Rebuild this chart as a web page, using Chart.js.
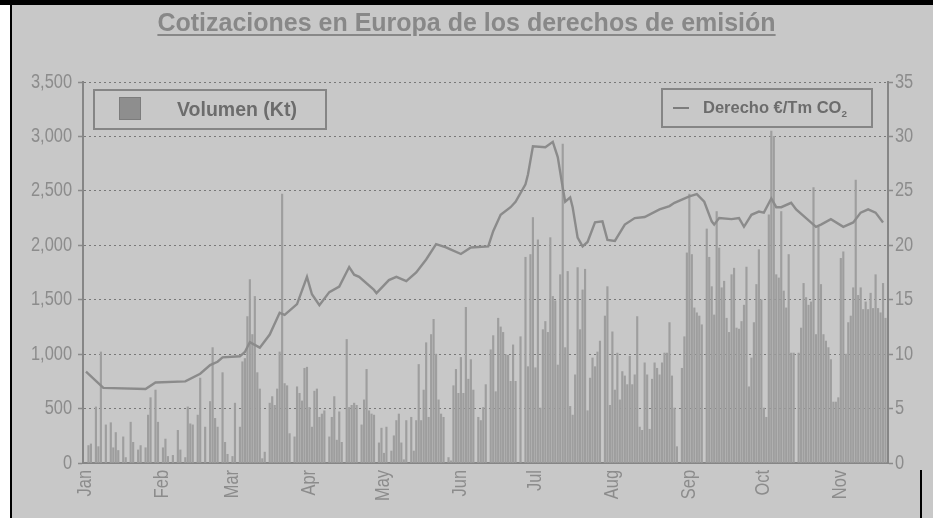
<!DOCTYPE html>
<html lang="es">
<head>
<meta charset="utf-8">
<title>Cotizaciones en Europa de los derechos de emisión</title>
<script src="https://cdn.jsdelivr.net/npm/chart.js@4.4.1/dist/chart.umd.min.js"></script>
<style>
  html, body { margin: 0; padding: 0; background: #ffffff; }
  #marco { position: relative; width: 933px; height: 518px; overflow: hidden; background: #ffffff; }
  #fondo { position: absolute; left: 12px; top: 5px; right: 0; bottom: 0; background: #c8c8c8; }
  #borde-sup { position: absolute; left: 0; top: 0; width: 933px; height: 5px; background: #000; }
  #borde-izq { position: absolute; left: 10px; top: 0; width: 2px; height: 518px; background: #000; }
  #borde-der { position: absolute; left: 920px; top: 470px; width: 2px; height: 48px; background: #000; }
  #grafico { position: absolute; left: 0; top: 0; }
  #titulo {
    position: absolute; left: 0; width: 933px; top: 8px; text-align: center;
    font-family: 'Liberation Sans', Arial, sans-serif; font-weight: bold;
    font-size: 25px; color: #888888; text-decoration: underline;
    text-decoration-thickness: 2px; text-underline-offset: 3px;
  }
  .leyenda {
    position: absolute; box-sizing: border-box; border: 2px solid #858585;
    font-family: 'Liberation Sans', Arial, sans-serif; font-weight: bold; color: #6c6c6c;
  }
  #leyenda-volumen { left: 93px; top: 89px; width: 234px; height: 41px; }
  #leyenda-precio { left: 661px; top: 88px; width: 212px; height: 40px; }
  .muestra { position: absolute; left: 24px; top: 6px; width: 22px; height: 23px; box-sizing: border-box;
    background: #8e8e8e; border: 1px solid #7c7c7c; }
  .linea { position: absolute; left: 10px; top: 17px; width: 16px; height: 2px; background: #7c7c7c; }
  .texto { position: absolute; white-space: nowrap; }
  #leyenda-volumen .texto { left: 82px; top: 7px; font-size: 19.5px; }
  #leyenda-precio .texto { left: 40px; top: 8px; font-size: 16.5px; }
  sub { font-size: 60%; }
</style>
</head>
<body>
<div id="marco">
  <div id="fondo"></div>
  <canvas id="grafico" width="933" height="518"></canvas>
  <div id="borde-sup"></div>
  <div id="borde-izq"></div>
  <div id="borde-der"></div>
  <div id="titulo">Cotizaciones en Europa de los derechos de emisión</div>
  <div class="leyenda" id="leyenda-volumen"><span class="muestra"></span><span class="texto" id="txt-volumen"></span></div>
  <div class="leyenda" id="leyenda-precio"><span class="linea"></span><span class="texto" id="txt-precio"></span></div>
</div>
<script>
// Meses del eje x (dia del año en que empieza cada mes)
const meses = ['Jan', 'Feb', 'Mar', 'Apr', 'May', 'Jun', 'Jul', 'Aug', 'Sep', 'Oct', 'Nov'];
const inicioMeses = [0, 31, 59, 90, 120, 151, 181, 212, 243, 273, 304];

// Volumen diario (Kt), un valor por dia natural de cada mes (0 = sin negociacion)
const volEne = [0, 160, 175, 0, 515, 150, 1020, 0, 350, 0, 370, 140, 280, 115, 0, 240, 50, 0, 375, 190, 0, 120, 160, 0, 140, 440, 600, 0, 670, 375, 0];
const volFeb = [140, 220, 60, 0, 70, 0, 300, 120, 0, 50, 515, 360, 350, 0, 440, 780, 0, 330, 0, 565, 1060, 410, 330, 0, 830, 190, 80, 0];
const volMar = [60, 550, 0, 330, 930, 960, 1345, 1685, 1180, 1530, 830, 680, 40, 100, 0, 550, 610, 530, 680, 1020, 2470, 730, 710, 270, 0, 240, 700, 640, 570, 870, 880];
const volAbr = [510, 330, 660, 680, 420, 450, 480, 0, 240, 420, 610, 210, 470, 190, 0, 1135, 510, 530, 550, 530, 0, 350, 580, 860, 480, 450, 440, 0, 185, 320];
const volMay = [90, 330, 0, 110, 250, 390, 450, 185, 30, 390, 0, 420, 110, 390, 905, 390, 670, 1105, 420, 1180, 1320, 1000, 580, 450, 420, 0, 50, 20, 710, 860, 640];
const volJun = [970, 640, 1430, 770, 950, 670, 0, 420, 390, 510, 720, 0, 1040, 1170, 655, 1330, 1250, 1200, 995, 990, 750, 1085, 750, 0, 1160, 0, 1890, 885, 1915, 2255];
const volJul = [875, 2050, 505, 1225, 1300, 1200, 2070, 1530, 1490, 900, 1730, 2930, 1060, 1760, 520, 440, 810, 1795, 1225, 1590, 1780, 480, 780, 965, 885, 1020, 1120, 0, 1350, 1620, 530];
const volAgo = [1205, 670, 1010, 580, 840, 800, 720, 980, 720, 810, 1345, 330, 300, 920, 810, 310, 770, 920, 870, 810, 920, 1010, 1010, 1290, 800, 505, 150, 0, 870, 1160, 1930];
const volSep = [2470, 1915, 1425, 1380, 1350, 1270, 0, 2150, 1890, 1620, 1360, 2310, 1975, 1610, 1670, 1330, 1200, 1730, 1790, 1240, 1230, 1300, 1450, 1800, 700, 965, 1290, 1640, 1960, 1500];
const volOct = [505, 420, 2280, 3050, 3000, 1730, 1700, 2310, 1580, 1425, 1915, 1010, 1010, 0, 1010, 1240, 1650, 1520, 1450, 1480, 2530, 1180, 2170, 1640, 1180, 1120, 1060, 950, 560, 560, 600];
const volNov = [1880, 1940, 1000, 1290, 1350, 1610, 2600, 1540, 1610, 1410, 1480, 1410, 1560, 1420, 1730, 1420, 1380, 1650, 1330];

// Precio del derecho (€/Tm CO2): dia del año y cotizacion
const precioDias = [0, 7, 24, 28, 40, 46, 50, 53, 55, 62, 64, 66, 70, 74, 78, 80, 85, 89, 91, 94, 98, 102, 106, 108, 110, 116, 117, 122, 125, 129, 133, 137, 141, 145, 147, 151, 155, 162, 164, 167, 171, 173, 177, 178, 180, 185, 188, 190, 192, 193, 195, 196, 198, 200, 202, 205, 208, 210, 213, 217, 221, 225, 231, 235, 237, 243, 246, 249, 252, 253, 255, 260, 263, 265, 268, 271, 273, 276, 278, 280, 284, 286, 290, 294, 296, 300, 305, 309, 312, 315, 318, 321];
const precioValores = [8.4, 6.9, 6.8, 7.4, 7.5, 8.2, 9.0, 9.3, 9.7, 9.8, 10.2, 11.1, 10.6, 11.8, 13.8, 13.6, 14.6, 17.1, 15.5, 14.5, 15.7, 16.2, 18.0, 17.3, 17.1, 15.9, 15.6, 16.8, 17.1, 16.7, 17.5, 18.7, 20.1, 19.8, 19.6, 19.2, 19.8, 19.9, 21.3, 22.8, 23.5, 24.0, 25.6, 26.5, 29.1, 29.0, 29.5, 28.1, 25.3, 24.0, 24.4, 23.5, 20.7, 19.9, 20.3, 22.1, 22.2, 20.5, 20.4, 21.9, 22.5, 22.6, 23.3, 23.6, 23.9, 24.5, 24.7, 24.0, 22.2, 21.9, 22.5, 22.4, 22.5, 21.7, 22.8, 23.1, 23.0, 24.3, 23.5, 23.5, 23.9, 23.3, 22.5, 21.7, 21.9, 22.4, 21.7, 22.1, 23.0, 23.3, 23.0, 22.1];

const etiquetaVolumen = 'Volumen (Kt)';
const etiquetaPrecio = 'Derecho €/Tm CO₂';

const colorEtiquetas = '#8c8c8c';
const fuenteEtiquetas = '20px "Liberation Sans", Arial, sans-serif';
const estrechez = 0.82; // las etiquetas del original son de letra estrecha

/**
 * Convierte los volumenes mensuales en puntos {x: dia, y: volumen}
 */
function construirVolumenes() {
  const porMes = [volEne, volFeb, volMar, volAbr, volMay, volJun, volJul, volAgo, volSep, volOct, volNov];
  const puntos = [];
  porMes.forEach((valores, m) => {
    valores.forEach((v, i) => {
      if (v > 0) puntos.push({ x: inicioMeses[m] + i, y: v });
    });
  });
  return puntos;
}

/**
 * Dibuja las etiquetas de los ejes con letra estrecha
 */
const etiquetasEstrechas = {
  id: 'etiquetasEstrechas',
  afterDraw(chart) {
    const c = chart.ctx;
    const { x, y, y1 } = chart.scales;
    c.save();
    c.fillStyle = colorEtiquetas;
    c.font = fuenteEtiquetas;
    c.textBaseline = 'middle';

    // Eje izquierdo (volumen)
    c.textAlign = 'right';
    y.ticks.forEach(t => {
      c.save();
      c.translate(y.right - 11, y.getPixelForValue(t.value));
      c.scale(estrechez, 1);
      c.fillText(t.value.toLocaleString('en-US'), 0, 0);
      c.restore();
    });

    // Eje derecho (precio)
    c.textAlign = 'left';
    y1.ticks.forEach(t => {
      c.save();
      c.translate(y1.left + 7, y1.getPixelForValue(t.value));
      c.scale(estrechez, 1);
      c.fillText(String(t.value), 0, 0);
      c.restore();
    });

    // Eje x (meses), girado
    c.textAlign = 'right';
    x.ticks.forEach(t => {
      c.save();
      c.translate(x.getPixelForValue(t.value), x.top + 7);
      c.rotate(-Math.PI / 2);
      c.scale(estrechez, 1);
      c.fillText(meses[inicioMeses.indexOf(t.value)], 0, 0);
      c.restore();
    });
    c.restore();
  }
};

const ctx = document.getElementById('grafico');
const grafico = new Chart(ctx, {
  type: 'bar',
  data: {
    datasets: [
      {
        type: 'line',
        label: etiquetaPrecio,
        data: precioDias.map((d, i) => ({ x: d, y: precioValores[i] })),
        yAxisID: 'y1',
        borderColor: '#8b8b8b',
        borderWidth: 2.4,
        pointRadius: 0,
        tension: 0,
        order: 1
      },
      {
        label: etiquetaVolumen,
        data: construirVolumenes(),
        yAxisID: 'y',
        backgroundColor: '#9e9e9e',
        barThickness: 1.5,
        order: 2
      }
    ]
  },
  options: {
    responsive: false,
    animation: false,
    layout: { padding: { top: 82, left: 12, right: 0, bottom: 0 } },
    plugins: {
      legend: { display: false },
      tooltip: { enabled: false }
    },
    scales: {
      x: {
        type: 'linear',
        offset: false,
        min: -1.2,
        max: 323,
        afterFit: (s) => { s.height = 55; },
        afterBuildTicks: (s) => { s.ticks = inicioMeses.map(v => ({ value: v })); },
        grid: { display: false },
        border: { display: true, color: '#868686', width: 2 },
        ticks: { display: false }
      },
      y: {
        position: 'left',
        min: 0,
        max: 3500,
        afterFit: (s) => { s.width = 71; },
        grid: {
          color: '#787878',
          lineWidth: 1,
          tickLength: 5,
          tickColor: '#8a8a8a',
          tickWidth: 1.5
        },
        border: { display: true, color: '#868686', width: 2, dash: [2, 3] },
        ticks: { stepSize: 500, display: false }
      },
      y1: {
        position: 'right',
        min: 0,
        max: 35,
        afterFit: (s) => { s.width = 45; },
        grid: {
          drawOnChartArea: false,
          tickLength: 5,
          tickColor: '#8a8a8a',
          tickWidth: 1.5
        },
        border: { display: true, color: '#868686', width: 2 },
        ticks: { stepSize: 5, display: false }
      }
    }
  },
  plugins: [etiquetasEstrechas]
});

// Leyendas como texto
document.getElementById('txt-volumen').textContent = etiquetaVolumen;
document.getElementById('txt-precio').innerHTML = etiquetaPrecio.replace('₂', '<sub>2</sub>');
</script>
</body>
</html>
